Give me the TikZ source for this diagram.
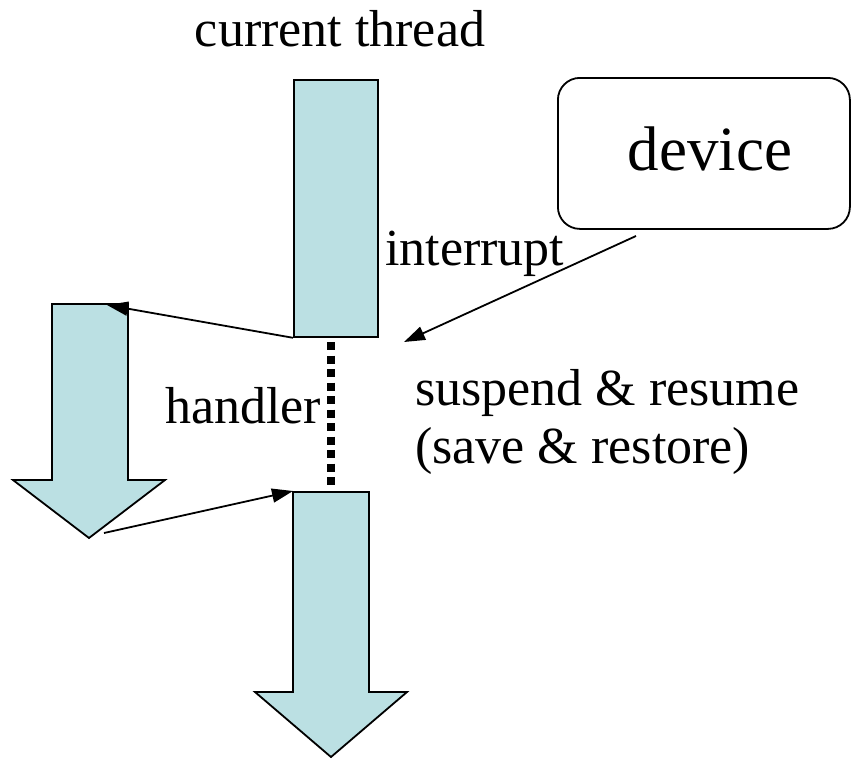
\documentclass[tikz,border=0pt]{standalone}
\usepackage{fontspec}
\setmainfont{Liberation Serif}
\usetikzlibrary{arrows.meta}
\definecolor{threadfill}{RGB}{187,224,227}
\tikzset{
  lbl/.style={inner sep=0pt, font=\fontsize{52}{60}\selectfont},
  block/.style={draw=black, line width=1.8pt, fill=threadfill, line join=miter},
  conn/.style={draw=black, line width=1.8pt, -{Triangle[length=21pt,width=14pt]}},
  dots/.style={draw=black, line width=8pt, dash pattern=on 8pt off 5.5pt}
}
\begin{document}
\begin{tikzpicture}[x=1pt,y=-1pt]
\useasboundingbox (0,0) rectangle (851,758);
% running thread before the interrupt
\node[block, rectangle, minimum width=84pt, minimum height=257pt, inner sep=0pt, anchor=north west] (cur) at (293,79) {};
% device box
\node[draw=black, line width=1.8pt, rounded corners=22pt, minimum width=292pt, minimum height=151pt, anchor=north west, inner sep=0pt] (dev) at (557,77) {};
\node[inner sep=0pt, font=\fontsize{63}{70}\selectfont, anchor=base] (devtxt) at (710,170) {device};
% handler block arrow
\draw[block] (52,304) -- (128,304) -- (128,480) -- (165,480) -- (89,538) -- (13,480) -- (52,480) -- cycle;
\coordinate (hTop) at (107,305);
\coordinate (hTip) at (104,533);
% resumed thread block arrow
\draw[block] (293,492) -- (369,492) -- (369,692) -- (407,692) -- (331,757) -- (255,692) -- (293,692) -- cycle;
\coordinate (rTop) at (293,491);
% suspend/resume gap between the two thread segments
\coordinate (gapTop) at (331,342);
\coordinate (gapBot) at (331,486);
% interrupt target point
\coordinate (irq) at (404,342);
\coordinate (devOut) at (636,236);
% labels
\node[lbl, anchor=base] (t1) at (340,46) {current thread};
\node[lbl, anchor=base west] (t2) at (385,265) {interrupt};
\node[lbl, anchor=base west] (t3) at (165,423) {handler};
\node[lbl, anchor=base west] (t4) at (415,405) {suspend \& resume};
\node[lbl, anchor=base west] (t5) at (415,463) {(save \& restore)};
% connectors
\draw[conn] (cur.south west) -- (hTop);
\draw[conn] (hTip) -- (rTop);
\draw[conn] (devOut) -- (irq);
\draw[dots] (gapTop) -- (gapBot);
\end{tikzpicture}
\end{document}
